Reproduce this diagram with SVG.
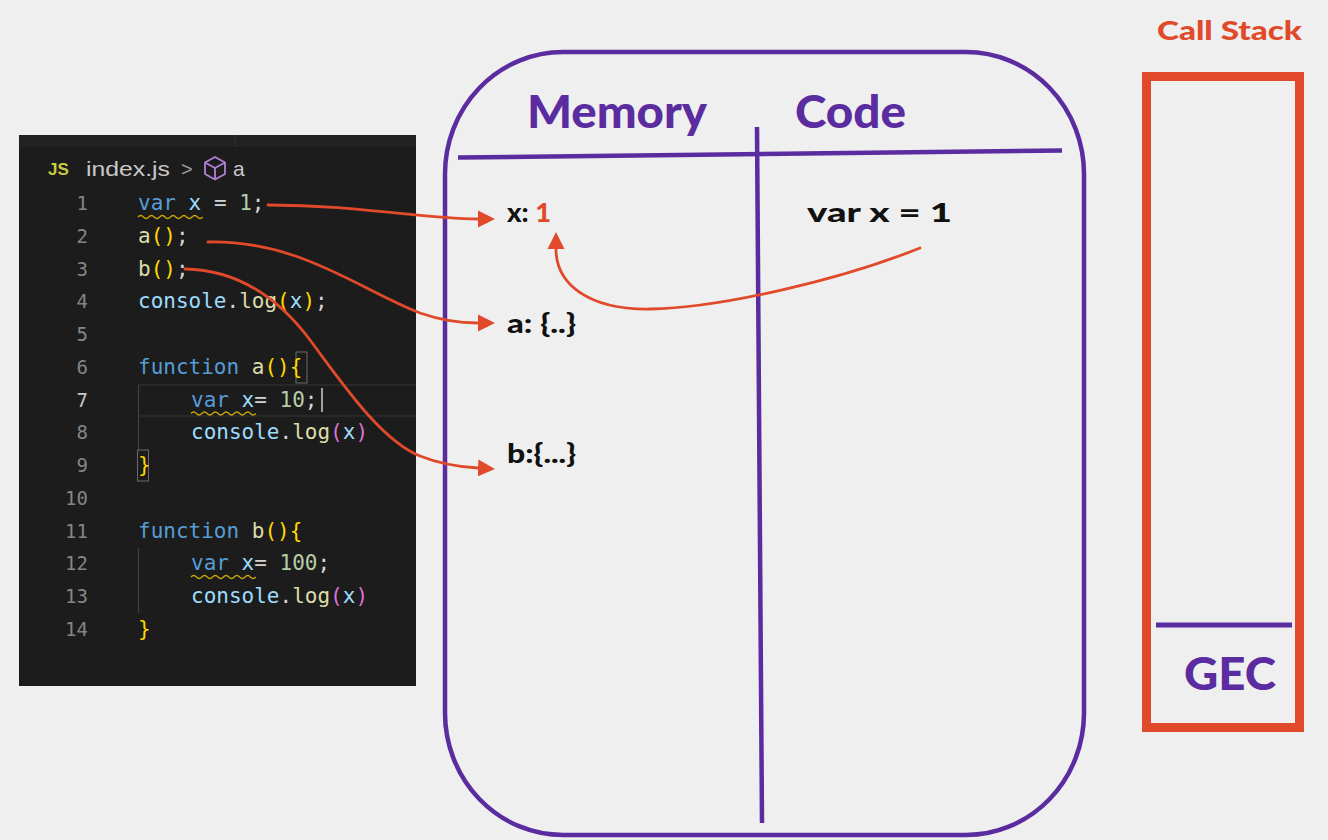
<svg xmlns="http://www.w3.org/2000/svg" width="1328" height="840" viewBox="0 0 1328 840">
<defs>
<style>
.code{font-family:"DejaVu Sans Mono","Liberation Mono",monospace;font-size:21px;white-space:pre;fill:#d4d4d4}
.ln{font-family:"DejaVu Sans Mono","Liberation Mono",monospace;font-size:19px;fill:#858585;text-anchor:end}
.kw{fill:#569cd6}.vr{fill:#9cdcfe}.nm{fill:#b5cea8}.fn{fill:#dcdcaa}.br{fill:#ffd700}.pp{fill:#da70d6}
.head{font-family:"Lato","Open Sans","DejaVu Sans",sans-serif;font-weight:900;fill:#5b2c9f}
.lbl{font-family:"Lato","Open Sans","DejaVu Sans",sans-serif;font-weight:900;font-size:26px;fill:#111}
.org{fill:#e04a2b}
.arrow{fill:none;stroke:#e04a2b;stroke-width:2.8;stroke-linecap:round}
.squig{fill:none;stroke:#c9a60a;stroke-width:1.3}
</style>
<marker id="ah" markerUnits="userSpaceOnUse" markerWidth="18" markerHeight="18" refX="0" refY="8.5" orient="auto" viewBox="0 0 18 17">
<path d="M0,0 L17,8.5 L0,17 z" fill="#e04a2b"/>
</marker>
</defs>
<rect x="0" y="0" width="1328" height="840" fill="#efefef"/>

<g id="code-panel">
<rect x="19" y="135" width="397" height="551" fill="#1c1c1c"/>
<rect x="19" y="135" width="397" height="12" fill="#222"/>
<line x1="235" y1="135" x2="235" y2="147" stroke="#333" stroke-width="1"/>
<text x="48" y="175" font-family="Liberation Sans,Arial,sans-serif" font-weight="bold" font-size="17" fill="#cbcb41">JS</text>
<text x="86" y="176" font-family="Liberation Sans,Arial,sans-serif" font-size="21" fill="#c8c8c8" textLength="84" lengthAdjust="spacingAndGlyphs">index.js</text>
<text x="181" y="176" font-family="Liberation Sans,Arial,sans-serif" font-size="20" fill="#9a9a9a">&gt;</text>
<g fill="none" stroke="#b180d7" stroke-width="1.8" stroke-linejoin="round">
<path d="M215,157 L225,162.5 L225,174 L215,179.5 L205,174 L205,162.5 Z"/>
<path d="M205,162.5 L215,168 L225,162.5 M215,168 L215,179.5"/>
</g>
<text x="233" y="176" font-family="Liberation Sans,Arial,sans-serif" font-size="21" fill="#c8c8c8">a</text>

<line x1="138" y1="385" x2="416" y2="385" stroke="#2c2c2c" stroke-width="1.5"/>
<line x1="138" y1="416" x2="416" y2="416" stroke="#2c2c2c" stroke-width="1.5"/>
<line x1="138.5" y1="385" x2="138.5" y2="450" stroke="#404040" stroke-width="1.2"/>
<line x1="138.5" y1="548" x2="138.5" y2="613" stroke="#404040" stroke-width="1.2"/>
<rect x="296" y="352" width="11" height="31" fill="none" stroke="#6a6a6a" stroke-width="1"/>
<rect x="137.5" y="450" width="11" height="31" fill="none" stroke="#6a6a6a" stroke-width="1"/>
<line x1="322" y1="388" x2="322" y2="412" stroke="#cfcfcf" stroke-width="1.5"/>

<text class="ln" x="88" y="210">1</text>
<text class="ln" x="88" y="242.8">2</text>
<text class="ln" x="88" y="275.5">3</text>
<text class="ln" x="88" y="308.3">4</text>
<text class="ln" x="88" y="341">5</text>
<text class="ln" x="88" y="373.8">6</text>
<text class="ln" x="88" y="406.5" style="fill:#c8c8c8">7</text>
<text class="ln" x="88" y="439.3">8</text>
<text class="ln" x="88" y="472">9</text>
<text class="ln" x="88" y="504.8">10</text>
<text class="ln" x="88" y="537.5">11</text>
<text class="ln" x="88" y="570.3">12</text>
<text class="ln" x="88" y="603">13</text>
<text class="ln" x="88" y="635.8">14</text>

<text class="code" x="138" y="210"><tspan class="kw">var</tspan> <tspan class="vr">x</tspan> = <tspan class="nm">1</tspan>;</text>
<text class="code" x="138" y="242.8"><tspan class="fn">a</tspan><tspan class="br">()</tspan>;</text>
<text class="code" x="138" y="275.5"><tspan class="fn">b</tspan><tspan class="br">()</tspan>;</text>
<text class="code" x="138" y="308.3"><tspan class="vr">console</tspan>.<tspan class="fn">log</tspan><tspan class="br">(</tspan><tspan class="vr">x</tspan><tspan class="br">)</tspan>;</text>
<text class="code" x="138" y="373.8"><tspan class="kw">function</tspan> <tspan class="fn">a</tspan><tspan class="br">(){</tspan></text>
<text class="code" x="191" y="406.5"><tspan class="kw">var</tspan> <tspan class="vr">x</tspan>= <tspan class="nm">10</tspan>;</text>
<text class="code" x="191" y="439.3"><tspan class="vr">console</tspan>.<tspan class="fn">log</tspan><tspan class="pp">(</tspan><tspan class="vr">x</tspan><tspan class="pp">)</tspan></text>
<text class="code" x="138" y="472"><tspan class="br">}</tspan></text>
<text class="code" x="138" y="537.5"><tspan class="kw">function</tspan> <tspan class="fn">b</tspan><tspan class="br">(){</tspan></text>
<text class="code" x="191" y="570.3"><tspan class="kw">var</tspan> <tspan class="vr">x</tspan>= <tspan class="nm">100</tspan>;</text>
<text class="code" x="191" y="603"><tspan class="vr">console</tspan>.<tspan class="fn">log</tspan><tspan class="pp">(</tspan><tspan class="vr">x</tspan><tspan class="pp">)</tspan></text>
<text class="code" x="138" y="635.8"><tspan class="br">}</tspan></text>

<path class="squig" d="M138,217 q2.7,-3 5.4,0 t5.4,0 t5.4,0 t5.4,0 t5.4,0 t5.4,0 t5.4,0 t5.4,0 t5.4,0 t5.4,0 t5.4,0 t5.4,0"/>
<path class="squig" d="M191,413.5 q2.7,-3 5.4,0 t5.4,0 t5.4,0 t5.4,0 t5.4,0 t5.4,0 t5.4,0 t5.4,0 t5.4,0 t5.4,0 t5.4,0 t5.4,0"/>
<path class="squig" d="M191,577 q2.7,-3 5.4,0 t5.4,0 t5.4,0 t5.4,0 t5.4,0 t5.4,0 t5.4,0 t5.4,0 t5.4,0 t5.4,0 t5.4,0 t5.4,0"/>
</g>

<g id="execution-context">
<rect x="445" y="52" width="639" height="783" rx="118" ry="122" fill="none" stroke="#5b2c9f" stroke-width="4.5"/>
<line x1="458" y1="157.5" x2="1062" y2="150.5" stroke="#5b2c9f" stroke-width="4.5"/>
<line x1="757" y1="127" x2="762" y2="823" stroke="#5b2c9f" stroke-width="4.5"/>
<text class="head" x="527" y="128" font-size="46" textLength="180" lengthAdjust="spacingAndGlyphs">Memory</text>
<text class="head" x="795" y="128" font-size="46" textLength="111" lengthAdjust="spacingAndGlyphs">Code</text>
</g>

<g id="memory-x"><text class="lbl" x="507" y="222" textLength="44" lengthAdjust="spacingAndGlyphs">x: <tspan class="org">1</tspan></text></g>
<g id="memory-a"><text class="lbl" x="507" y="333" textLength="69" lengthAdjust="spacingAndGlyphs">a: {..}</text></g>
<g id="memory-b"><text class="lbl" x="507" y="463" textLength="69" lengthAdjust="spacingAndGlyphs">b:{...}</text></g>
<g id="code-var-x"><text class="lbl" x="807" y="222" textLength="145" lengthAdjust="spacingAndGlyphs">var x = 1</text></g>

<g id="call-stack">
<text class="head" x="1157" y="40" font-size="27" textLength="145" lengthAdjust="spacingAndGlyphs" style="fill:#e04a2b">Call Stack</text>
<rect x="1146.5" y="76.5" width="153" height="651" fill="none" stroke="#e04a2b" stroke-width="9"/>
<line x1="1156" y1="625" x2="1292" y2="625" stroke="#5b2c9f" stroke-width="5"/>
<text class="head" x="1184" y="690" font-size="46" textLength="92" lengthAdjust="spacingAndGlyphs">GEC</text>
</g>

<g id="connectors">
<path class="arrow" marker-end="url(#ah)" d="M268,205 C 360,205 420,219 478,219"/>
<path class="arrow" marker-end="url(#ah)" d="M208,242 C 300,240 360,290 420,313 C 440,320 460,323 478,323"/>
<path class="arrow" marker-end="url(#ah)" d="M185,269 C 240,270 280,300 310,340 C 340,380 380,440 420,456 C 440,464 460,467 478,468"/>
<path class="arrow" marker-end="url(#ah)" d="M920,248 C 840,280 720,308 650,309 C 590,310 556,285 556,249"/>
</g>
</svg>
